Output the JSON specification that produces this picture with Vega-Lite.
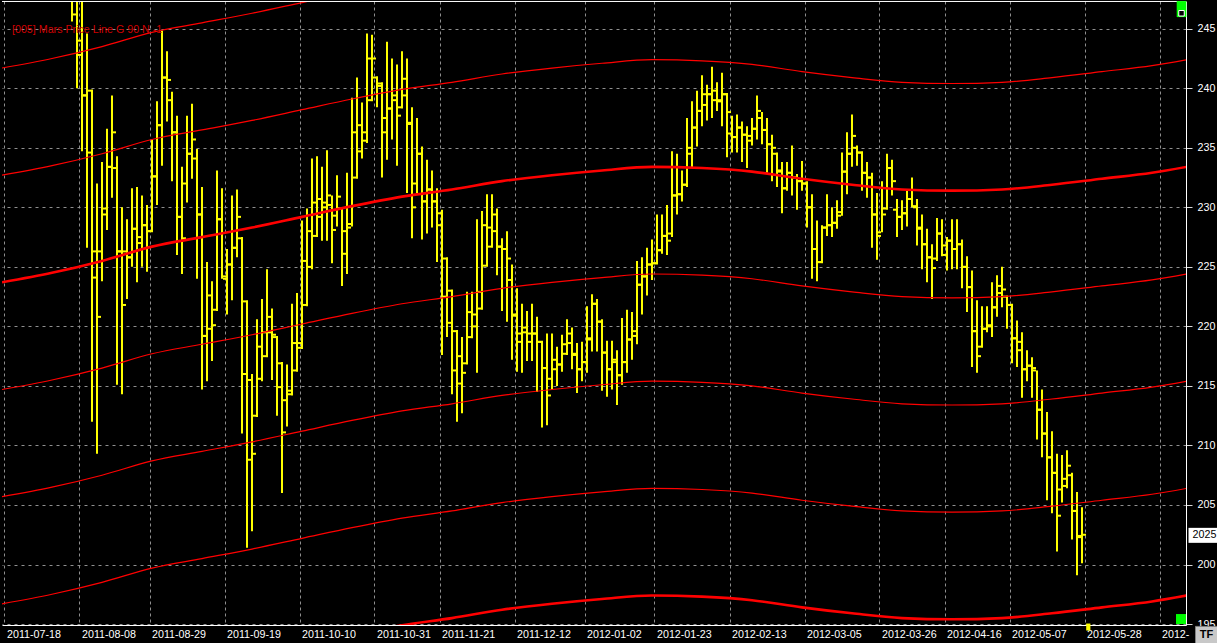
{
  "$schema": "https://vega.github.io/schema/vega-lite/v6.json",
  "width": 1184,
  "height": 624,
  "autosize": {"type": "none"},
  "padding": {"left": 2, "top": 1, "right": 31, "bottom": 18},
  "background": "#000000",
  "title": {"text": "[005] Mars Price Line G 90 N -1", "anchor": "start", "frame": "group", "orient": "top", "offset": 0, "dx": 10, "dy": 43, "baseline": "alphabetic", "color": "#d00000", "font": "Liberation Sans", "fontSize": 10.7, "fontWeight": "normal"},
  "config": {"view": {"stroke": null}},
  "resolve": {"axis": {"x": "independent", "y": "independent"}},
  "datasets": {
    "ohlc": [
      {"i":0,"o":248,"h":249,"l":245.6,"c":246.2},{"i":1,"o":247.5,"h":249,"l":240.0,"c":242.8},{"i":2,"o":244,"h":248,"l":234.7,"c":239.4},{"i":3,"o":239.4,"h":244.6,"l":226.6,"c":234.6},{"i":4,"o":239.8,"h":239.9,"l":212.0,"c":226.3},{"i":5,"o":224.1,"h":232.0,"l":209.3,"c":220.8},{"i":6,"o":226.3,"h":233.8,"l":223.8,"c":229.4},{"i":7,"o":229.9,"h":236.6,"l":228.1,"c":233.4},{"i":8,"o":233.4,"h":239.4,"l":230.8,"c":236.3},{"i":9,"o":233.3,"h":234.3,"l":215.1,"c":226.3},
      {"i":10,"o":226.3,"h":230.0,"l":214.3,"c":221.8},{"i":11,"o":226.3,"h":229.0,"l":222.3,"c":225.8},{"i":12,"o":225.8,"h":231.6,"l":225.0,"c":228.2},{"i":13,"o":228.2,"h":231.7,"l":223.7,"c":227.0},{"i":14,"o":227.5,"h":231.0,"l":225.0,"c":228.5},{"i":15,"o":228.5,"h":230.2,"l":224.6,"c":228.0},{"i":16,"o":228.0,"h":235.7,"l":227.9,"c":232.6},{"i":17,"o":232.6,"h":238.9,"l":230.2,"c":236.9},{"i":18,"o":236.9,"h":244.85,"l":233.5,"c":240.9},{"i":19,"o":240.9,"h":243.1,"l":237.2,"c":240.7},
      {"i":20,"o":239.0,"h":239.7,"l":232.2,"c":236.3},{"i":21,"o":236.3,"h":237.7,"l":226.0,"c":229.2},{"i":22,"o":229.2,"h":233.4,"l":224.4,"c":227.4},{"i":23,"o":232.0,"h":237.7,"l":230.4,"c":234.5},{"i":24,"o":234.5,"h":238.7,"l":232.4,"c":235.7},{"i":25,"o":234.1,"h":234.9,"l":224.0,"c":229.4},{"i":26,"o":229.4,"h":231.7,"l":214.7,"c":219.2},{"i":27,"o":219.2,"h":225.4,"l":215.4,"c":219.8},{"i":28,"o":222.6,"h":223.8,"l":217.1,"c":220.1},{"i":29,"o":221.4,"h":233.1,"l":221.3,"c":229.0},
      {"i":30,"o":229.0,"h":231.6,"l":224.0,"c":224.2},{"i":31,"o":224.0,"h":226.5,"l":221.0,"c":225.2},{"i":32,"o":225.2,"h":231.0,"l":222.2,"c":226.6},{"i":33,"o":226.6,"h":231.5,"l":225.8,"c":229.2},{"i":34,"o":227.4,"h":227.5,"l":211.0,"c":216.0},{"i":35,"o":222.1,"h":222.2,"l":201.4,"c":208.8},{"i":36,"o":215.5,"h":216.0,"l":202.8,"c":209.3},{"i":37,"o":212.5,"h":220.6,"l":212.4,"c":218.3},{"i":38,"o":215.6,"h":222.3,"l":215.4,"c":219.5},{"i":39,"o":217.5,"h":224.8,"l":217.4,"c":220.8},
      {"i":40,"o":219.5,"h":221.5,"l":215.5,"c":219.3},{"i":41,"o":219.1,"h":219.2,"l":212.5,"c":214.9},{"i":42,"o":216.9,"h":217.0,"l":206.0,"c":211.1},{"i":43,"o":213.8,"h":216.8,"l":211.6,"c":214.6},{"i":44,"o":214.3,"h":221.9,"l":214.2,"c":218.6},{"i":45,"o":216.3,"h":222.8,"l":216.2,"c":218.6},{"i":46,"o":218.2,"h":228.9,"l":218.1,"c":225.5},{"i":47,"o":221.8,"h":229.9,"l":221.7,"c":228.0},{"i":48,"o":225.0,"h":234.1,"l":224.8,"c":230.4},{"i":49,"o":227.6,"h":234.3,"l":227.5,"c":230.7},
      {"i":50,"o":229.2,"h":233.4,"l":227.2,"c":230.0},{"i":51,"o":230.4,"h":234.8,"l":227.2,"c":231.0},{"i":52,"o":230.2,"h":231.0,"l":225.3,"c":228.1},{"i":53,"o":229.3,"h":232.7,"l":228.4,"c":230.9},{"i":54,"o":229.9,"h":230.0,"l":223.4,"c":226.1},{"i":55,"o":228.0,"h":232.9,"l":224.4,"c":228.3},{"i":56,"o":228.6,"h":239.2,"l":228.4,"c":236.3},{"i":57,"o":232.5,"h":240.9,"l":232.4,"c":236.9},{"i":58,"o":234.7,"h":238.8,"l":234.1,"c":236.3},{"i":59,"o":235.6,"h":244.6,"l":235.4,"c":242.5},
      {"i":60,"o":239.0,"h":244.5,"l":238.9,"c":242.5},{"i":61,"o":240.9,"h":241.0,"l":238.4,"c":240.4},{"i":62,"o":240.2,"h":240.5,"l":232.5,"c":236.3},{"i":63,"o":237.5,"h":243.9,"l":234.0,"c":238.3},{"i":64,"o":238.3,"h":242.5,"l":235.7,"c":239.0},{"i":65,"o":239.4,"h":242.0,"l":233.5,"c":237.7},{"i":66,"o":238.4,"h":243.1,"l":238.3,"c":240.8},{"i":67,"o":239.4,"h":242.5,"l":231.2,"c":237.1},{"i":68,"o":237.0,"h":238.4,"l":227.4,"c":230.0},{"i":69,"o":232.0,"h":237.5,"l":231.2,"c":234.5},
      {"i":70,"o":234.5,"h":235.1,"l":227.3,"c":230.5},{"i":71,"o":230.5,"h":234.0,"l":227.8,"c":231.5},{"i":72,"o":231.5,"h":233.1,"l":228.3,"c":230.5},{"i":73,"o":230.5,"h":231.6,"l":225.4,"c":229.5},{"i":74,"o":228.5,"h":229.8,"l":217.6,"c":222.5},{"i":75,"o":225.7,"h":225.8,"l":219.1,"c":220.3},{"i":76,"o":223.0,"h":223.1,"l":214.3,"c":216.3},{"i":77,"o":219.6,"h":219.7,"l":212.0,"c":215.2},{"i":78,"o":217.5,"h":219.1,"l":212.7,"c":216.1},{"i":79,"o":216.9,"h":222.9,"l":216.8,"c":221.2},
      {"i":80,"o":219.1,"h":222.9,"l":219.0,"c":221.0},{"i":81,"o":220.0,"h":229.0,"l":216.1,"c":222.9},{"i":82,"o":221.5,"h":229.7,"l":221.4,"c":228.5},{"i":83,"o":225.1,"h":231.1,"l":225.0,"c":228.3},{"i":84,"o":226.7,"h":231.1,"l":226.6,"c":229.4},{"i":85,"o":228.0,"h":229.9,"l":224.3,"c":226.7},{"i":86,"o":226.7,"h":227.4,"l":221.3,"c":226.5},{"i":87,"o":226.5,"h":228.0,"l":220.4,"c":225.7},{"i":88,"o":223.9,"h":225.2,"l":217.2,"c":220.9},{"i":89,"o":221.0,"h":223.2,"l":216.2,"c":219.4},
      {"i":90,"o":218.7,"h":221.9,"l":216.1,"c":219.5},{"i":91,"o":219.9,"h":221.3,"l":217.1,"c":219.4},{"i":92,"o":218.7,"h":221.9,"l":217.1,"c":219.4},{"i":93,"o":219.4,"h":220.8,"l":214.5,"c":218.7},{"i":94,"o":218.7,"h":218.8,"l":211.5,"c":216.5},{"i":95,"o":216.5,"h":219.4,"l":211.7,"c":214.2},{"i":96,"o":215.6,"h":219.4,"l":214.7,"c":217.2},{"i":97,"o":216.4,"h":218.3,"l":215.0,"c":216.8},{"i":98,"o":216.8,"h":219.3,"l":216.2,"c":218.5},{"i":99,"o":217.7,"h":220.6,"l":217.6,"c":219.4},
      {"i":100,"o":218.6,"h":219.9,"l":216.4,"c":217.6},{"i":101,"o":217.7,"h":218.6,"l":214.4,"c":216.4},{"i":102,"o":216.4,"h":218.7,"l":215.4,"c":217.0},{"i":103,"o":217.0,"h":221.7,"l":216.1,"c":218.9},{"i":104,"o":219.0,"h":222.7,"l":217.9,"c":221.9},{"i":105,"o":221.9,"h":222.3,"l":217.9,"c":220.4},{"i":106,"o":220.4,"h":220.6,"l":214.6,"c":217.8},{"i":107,"o":217.8,"h":218.8,"l":214.1,"c":216.4},{"i":108,"o":216.4,"h":218.8,"l":214.7,"c":217.2},{"i":109,"o":217.0,"h":218.0,"l":213.4,"c":215.9},
      {"i":110,"o":215.9,"h":220.7,"l":215.1,"c":217.0},{"i":111,"o":217.0,"h":221.4,"l":216.1,"c":218.9},{"i":112,"o":218.9,"h":221.2,"l":217.2,"c":219.6},{"i":113,"o":219.2,"h":225.5,"l":218.5,"c":223.5},{"i":114,"o":223.5,"h":225.8,"l":221.0,"c":224.2},{"i":115,"o":224.2,"h":226.6,"l":222.6,"c":225.2},{"i":116,"o":225.2,"h":227.3,"l":223.9,"c":225.3},{"i":117,"o":225.3,"h":229.4,"l":225.2,"c":226.4},{"i":118,"o":226.4,"h":229.4,"l":226.1,"c":227.6},{"i":119,"o":227.6,"h":230.2,"l":226.0,"c":227.2},
      {"i":120,"o":227.8,"h":234.7,"l":227.5,"c":231.0},{"i":121,"o":231.0,"h":234.5,"l":229.4,"c":231.1},{"i":122,"o":231.1,"h":233.1,"l":230.5,"c":231.9},{"i":123,"o":231.9,"h":237.5,"l":231.7,"c":235.0},{"i":124,"o":234.5,"h":238.9,"l":233.3,"c":236.7},{"i":125,"o":236.7,"h":239.8,"l":235.1,"c":238.1},{"i":126,"o":238.1,"h":241.1,"l":236.8,"c":239.5},{"i":127,"o":238.6,"h":240.3,"l":237.3,"c":239.5},{"i":128,"o":239.5,"h":241.8,"l":237.5,"c":239.8},{"i":129,"o":239.0,"h":240.5,"l":238.1,"c":238.9},
      {"i":130,"o":239.0,"h":241.3,"l":236.8,"c":239.5},{"i":131,"o":239.5,"h":239.6,"l":234.2,"c":238.0},{"i":132,"o":236.2,"h":237.7,"l":234.6,"c":235.9},{"i":133,"o":235.9,"h":237.8,"l":234.6,"c":236.7},{"i":134,"o":236.7,"h":237.2,"l":233.8,"c":236.1},{"i":135,"o":236.1,"h":236.8,"l":233.3,"c":235.6},{"i":136,"o":236.0,"h":237.5,"l":235.2,"c":236.6},{"i":137,"o":236.6,"h":239.4,"l":235.7,"c":238.1},{"i":138,"o":237.5,"h":238.0,"l":235.3,"c":236.5},{"i":139,"o":236.5,"h":237.5,"l":232.9,"c":235.3},
      {"i":140,"o":235.3,"h":236.1,"l":232.2,"c":235.0},{"i":141,"o":234.5,"h":234.6,"l":231.7,"c":233.1},{"i":142,"o":233.0,"h":233.8,"l":229.5,"c":231.6},{"i":143,"o":231.6,"h":233.8,"l":231.4,"c":232.9},{"i":144,"o":232.9,"h":235.2,"l":231.0,"c":232.5},{"i":145,"o":232.5,"h":232.8,"l":229.8,"c":232.2},{"i":146,"o":232.2,"h":233.9,"l":231.4,"c":232.0},{"i":147,"o":232.0,"h":232.2,"l":228.3,"c":230.0},{"i":148,"o":230.0,"h":231.1,"l":224.0,"c":226.5},{"i":149,"o":226.5,"h":228.9,"l":223.8,"c":225.4},
      {"i":150,"o":225.4,"h":228.5,"l":225.3,"c":228.3},{"i":151,"o":228.3,"h":231.1,"l":227.6,"c":228.5},{"i":152,"o":228.5,"h":230.0,"l":227.5,"c":228.7},{"i":153,"o":228.7,"h":230.6,"l":228.2,"c":229.3},{"i":154,"o":229.6,"h":234.6,"l":229.3,"c":233.0},{"i":155,"o":233.0,"h":236.3,"l":231.1,"c":234.5},{"i":156,"o":234.5,"h":237.8,"l":233.4,"c":236.0},{"i":157,"o":235.0,"h":235.2,"l":233.5,"c":234.6},{"i":158,"o":234.6,"h":234.7,"l":231.4,"c":232.9},{"i":159,"o":232.9,"h":233.8,"l":230.8,"c":232.5},
      {"i":160,"o":232.5,"h":232.9,"l":226.6,"c":229.4},{"i":161,"o":229.4,"h":231.2,"l":225.6,"c":227.6},{"i":162,"o":227.9,"h":232.2,"l":227.9,"c":229.4},{"i":163,"o":229.9,"h":234.5,"l":229.8,"c":233.3},{"i":164,"o":233.3,"h":234.0,"l":231.0,"c":232.2},{"i":165,"o":229.8,"h":230.7,"l":227.5,"c":229.2},{"i":166,"o":229.2,"h":230.6,"l":228.1,"c":229.5},{"i":167,"o":229.5,"h":231.4,"l":228.4,"c":230.7},{"i":168,"o":230.7,"h":232.5,"l":230.0,"c":230.1},{"i":169,"o":230.0,"h":230.7,"l":226.8,"c":228.2},
      {"i":170,"o":228.3,"h":229.4,"l":224.8,"c":226.9},{"i":171,"o":226.9,"h":228.2,"l":223.7,"c":225.8},{"i":172,"o":225.8,"h":226.9,"l":222.3,"c":224.9},{"i":173,"o":225.7,"h":229.1,"l":225.5,"c":227.8},{"i":174,"o":227.8,"h":229.0,"l":225.9,"c":226.8},{"i":175,"o":226.0,"h":227.5,"l":224.7,"c":227.2},{"i":176,"o":227.2,"h":229.0,"l":224.8,"c":226.5},{"i":177,"o":226.5,"h":229.0,"l":224.8,"c":226.9},{"i":178,"o":226.9,"h":227.3,"l":223.2,"c":225.0},{"i":179,"o":225.0,"h":225.9,"l":221.2,"c":223.3},
      {"i":180,"o":223.3,"h":224.7,"l":216.6,"c":219.6},{"i":181,"o":219.6,"h":222.2,"l":216.1,"c":217.5},{"i":182,"o":218.3,"h":221.7,"l":218.2,"c":219.8},{"i":183,"o":219.8,"h":221.7,"l":219.5,"c":220.0},{"i":184,"o":220.1,"h":223.7,"l":219.1,"c":221.6},{"i":185,"o":221.6,"h":224.3,"l":220.8,"c":223.4},{"i":186,"o":222.8,"h":225.0,"l":221.6,"c":223.1},{"i":187,"o":222.5,"h":222.6,"l":219.8,"c":221.8},{"i":188,"o":221.8,"h":221.9,"l":216.9,"c":219.0},{"i":189,"o":219.0,"h":220.5,"l":216.6,"c":218.0},
      {"i":190,"o":218.7,"h":219.5,"l":214.0,"c":216.4},{"i":191,"o":216.4,"h":218.0,"l":215.4,"c":216.7},{"i":192,"o":216.7,"h":217.4,"l":214.0,"c":216.5},{"i":193,"o":216.3,"h":216.3,"l":210.5,"c":213.0},{"i":194,"o":213.0,"h":214.7,"l":209.0,"c":211.0},{"i":195,"o":211.0,"h":212.8,"l":205.4,"c":209.0},{"i":196,"o":209.0,"h":211.2,"l":204.3,"c":207.7},{"i":197,"o":207.7,"h":209.3,"l":201.1,"c":204.1},{"i":198,"o":206.3,"h":209.2,"l":205.2,"c":206.6},{"i":199,"o":207.2,"h":209.6,"l":206.4,"c":208.3},
      {"i":200,"o":207.5,"h":207.7,"l":202.1,"c":204.5},{"i":201,"o":204.5,"h":206.1,"l":199.1,"c":202.3},{"i":202,"o":202.4,"h":204.8,"l":200.1,"c":202.5}
    ],
    "mars": [
      {"k":18,"i":-14,"v":241.7},{"k":18,"i":-4,"v":242.5},{"k":18,"i":6,"v":243.5},{"k":18,"i":16,"v":244.7},{"k":18,"i":26,"v":245.5},{"k":18,"i":36,"v":246.3},{"k":18,"i":46,"v":247.2},{"k":18,"i":56,"v":248.1},{"k":18,"i":66,"v":248.9},
      {"k":9,"i":-14,"v":232.7},{"k":9,"i":-4,"v":233.5},{"k":9,"i":6,"v":234.5},{"k":9,"i":16,"v":235.7},{"k":9,"i":26,"v":236.5},{"k":9,"i":36,"v":237.3},{"k":9,"i":46,"v":238.2},{"k":9,"i":56,"v":239.1},{"k":9,"i":66,"v":239.9},{"k":9,"i":76,"v":240.5},{"k":9,"i":86,"v":241.2},{"k":9,"i":96,"v":241.7},{"k":9,"i":106,"v":242.1},{"k":9,"i":116,"v":242.4},{"k":9,"i":126,"v":242.3},{"k":9,"i":136,"v":242.0},{"k":9,"i":146,"v":241.4},{"k":9,"i":156,"v":240.9},{"k":9,"i":166,"v":240.5},{"k":9,"i":176,"v":240.4},{"k":9,"i":186,"v":240.5},{"k":9,"i":196,"v":240.9},{"k":9,"i":206,"v":241.4},{"k":9,"i":216,"v":241.9},{"k":9,"i":223,"v":242.4},
      {"k":0,"i":-14,"v":223.7},{"k":0,"i":-4,"v":224.5},{"k":0,"i":6,"v":225.5},{"k":0,"i":16,"v":226.7},{"k":0,"i":26,"v":227.5},{"k":0,"i":36,"v":228.3},{"k":0,"i":46,"v":229.2},{"k":0,"i":56,"v":230.1},{"k":0,"i":66,"v":230.9},{"k":0,"i":76,"v":231.5},{"k":0,"i":86,"v":232.2},{"k":0,"i":96,"v":232.7},{"k":0,"i":106,"v":233.1},{"k":0,"i":116,"v":233.4},{"k":0,"i":126,"v":233.3},{"k":0,"i":136,"v":233.0},{"k":0,"i":146,"v":232.4},{"k":0,"i":156,"v":231.9},{"k":0,"i":166,"v":231.5},{"k":0,"i":176,"v":231.4},{"k":0,"i":186,"v":231.5},{"k":0,"i":196,"v":231.9},{"k":0,"i":206,"v":232.4},{"k":0,"i":216,"v":232.9},{"k":0,"i":223,"v":233.4},
      {"k":-9,"i":-14,"v":214.7},{"k":-9,"i":-4,"v":215.5},{"k":-9,"i":6,"v":216.5},{"k":-9,"i":16,"v":217.7},{"k":-9,"i":26,"v":218.5},{"k":-9,"i":36,"v":219.3},{"k":-9,"i":46,"v":220.2},{"k":-9,"i":56,"v":221.1},{"k":-9,"i":66,"v":221.9},{"k":-9,"i":76,"v":222.5},{"k":-9,"i":86,"v":223.2},{"k":-9,"i":96,"v":223.7},{"k":-9,"i":106,"v":224.1},{"k":-9,"i":116,"v":224.4},{"k":-9,"i":126,"v":224.3},{"k":-9,"i":136,"v":224.0},{"k":-9,"i":146,"v":223.4},{"k":-9,"i":156,"v":222.9},{"k":-9,"i":166,"v":222.5},{"k":-9,"i":176,"v":222.4},{"k":-9,"i":186,"v":222.5},{"k":-9,"i":196,"v":222.9},{"k":-9,"i":206,"v":223.4},{"k":-9,"i":216,"v":223.9},{"k":-9,"i":223,"v":224.4},
      {"k":-18,"i":-14,"v":205.7},{"k":-18,"i":-4,"v":206.5},{"k":-18,"i":6,"v":207.5},{"k":-18,"i":16,"v":208.7},{"k":-18,"i":26,"v":209.5},{"k":-18,"i":36,"v":210.3},{"k":-18,"i":46,"v":211.2},{"k":-18,"i":56,"v":212.1},{"k":-18,"i":66,"v":212.9},{"k":-18,"i":76,"v":213.5},{"k":-18,"i":86,"v":214.2},{"k":-18,"i":96,"v":214.7},{"k":-18,"i":106,"v":215.1},{"k":-18,"i":116,"v":215.4},{"k":-18,"i":126,"v":215.3},{"k":-18,"i":136,"v":215.0},{"k":-18,"i":146,"v":214.4},{"k":-18,"i":156,"v":213.9},{"k":-18,"i":166,"v":213.5},{"k":-18,"i":176,"v":213.4},{"k":-18,"i":186,"v":213.5},{"k":-18,"i":196,"v":213.9},{"k":-18,"i":206,"v":214.4},{"k":-18,"i":216,"v":214.9},{"k":-18,"i":223,"v":215.4},
      {"k":-27,"i":-14,"v":196.7},{"k":-27,"i":-4,"v":197.5},{"k":-27,"i":6,"v":198.5},{"k":-27,"i":16,"v":199.7},{"k":-27,"i":26,"v":200.5},{"k":-27,"i":36,"v":201.3},{"k":-27,"i":46,"v":202.2},{"k":-27,"i":56,"v":203.1},{"k":-27,"i":66,"v":203.9},{"k":-27,"i":76,"v":204.5},{"k":-27,"i":86,"v":205.2},{"k":-27,"i":96,"v":205.7},{"k":-27,"i":106,"v":206.1},{"k":-27,"i":116,"v":206.4},{"k":-27,"i":126,"v":206.3},{"k":-27,"i":136,"v":206.0},{"k":-27,"i":146,"v":205.4},{"k":-27,"i":156,"v":204.9},{"k":-27,"i":166,"v":204.5},{"k":-27,"i":176,"v":204.4},{"k":-27,"i":186,"v":204.5},{"k":-27,"i":196,"v":204.9},{"k":-27,"i":206,"v":205.4},{"k":-27,"i":216,"v":205.9},{"k":-27,"i":223,"v":206.4},
      {"k":-36,"i":46,"v":193.2},{"k":-36,"i":56,"v":194.1},{"k":-36,"i":66,"v":194.9},{"k":-36,"i":76,"v":195.5},{"k":-36,"i":86,"v":196.2},{"k":-36,"i":96,"v":196.7},{"k":-36,"i":106,"v":197.1},{"k":-36,"i":116,"v":197.4},{"k":-36,"i":126,"v":197.3},{"k":-36,"i":136,"v":197.0},{"k":-36,"i":146,"v":196.4},{"k":-36,"i":156,"v":195.9},{"k":-36,"i":166,"v":195.5},{"k":-36,"i":176,"v":195.4},{"k":-36,"i":186,"v":195.5},{"k":-36,"i":196,"v":195.9},{"k":-36,"i":206,"v":196.4},{"k":-36,"i":216,"v":196.9},{"k":-36,"i":223,"v":197.4}
    ]
  },
  "layer": [
    {
      "data": {"name": "ohlc"},
      "mark": {"type": "rule", "color": "#ffff00", "strokeWidth": 2, "clip": true},
      "encoding": {
        "x": {"field": "i", "type": "quantitative",
          "scale": {"domain": [-14.0, 222.8], "nice": false, "zero": false},
          "axis": {"orient": "bottom", "title": null,
            "values": [-13.5, 1.5, 15.5, 30.5, 45.5, 60.5, 73.5, 88.5, 102.5, 116.5, 131.5, 146.5, 161.5, 174.5, 187.5, 202.5, 217.5],
            "labelExpr": "['2011-07-18','2011-08-08','2011-08-29','2011-09-19','2011-10-10','2011-10-31','2011-11-21','2011-12-12','2012-01-02','2012-01-23','2012-02-13','2012-03-05','2012-03-26','2012-04-16','2012-05-07','2012-05-28','2012-'][indexof([-13.5, 1.5, 15.5, 30.5, 45.5, 60.5, 73.5, 88.5, 102.5, 116.5, 131.5, 146.5, 161.5, 174.5, 187.5, 202.5, 217.5], datum.value)]",
            "grid": true, "gridColor": "#8f8f8f", "gridDash": [3, 3], "gridWidth": 1,
            "domain": true, "domainColor": "#ffffff", "domainWidth": 1,
            "ticks": false, "tickSize": 0,
            "labelColor": "#ffffff", "labelFont": "Liberation Sans", "labelFontSize": 10.7,
            "labelAlign": "left", "labelBaseline": "top", "labelFlush": false, "labelOverlap": false, "labelBound": false,
            "labelPadding": 4, "labelOffset": 2}},
        "y": {"field": "l", "type": "quantitative",
          "scale": {"domain": [194.92, 247.33], "nice": false, "zero": false},
          "axis": {"orient": "right", "title": null,
            "values": [195, 200, 205, 210, 215, 220, 225, 230, 235, 240, 245],
            "grid": true, "gridColor": "#8f8f8f", "gridDash": [3, 4], "gridWidth": 1,
            "domain": true, "domainColor": "#ffffff", "domainWidth": 1,
            "ticks": true, "tickColor": "#d8d8d8", "tickSize": 6, "tickWidth": 1,
            "labelColor": "#ffffff", "labelFont": "Liberation Sans", "labelFontSize": 10.7,
            "labelAlign": "left", "labelBaseline": "middle", "labelPadding": 5, "labelFlush": false, "labelOverlap": false}},
        "y2": {"field": "h"}
      }
    },
    {
      "data": {"name": "ohlc"},
      "mark": {"type": "tick", "orient": "horizontal", "color": "#ffff00", "size": 3, "thickness": 2, "xOffset": -2.5, "opacity": 1, "clip": true},
      "encoding": {
        "x": {"field": "i", "type": "quantitative", "axis": null},
        "y": {"field": "o", "type": "quantitative", "axis": null}
      }
    },
    {
      "data": {"name": "ohlc"},
      "mark": {"type": "tick", "orient": "horizontal", "color": "#ffff00", "size": 3, "thickness": 2, "xOffset": 2.5, "opacity": 1, "clip": true},
      "encoding": {
        "x": {"field": "i", "type": "quantitative", "axis": null},
        "y": {"field": "c", "type": "quantitative", "axis": null}
      }
    },
    {
      "data": {"name": "mars"},
      "transform": [{"filter": "datum.k != 0 && datum.k != -36"}],
      "mark": {"type": "line", "color": "#ff0000", "strokeWidth": 1.2, "interpolate": "monotone", "clip": true},
      "encoding": {
        "x": {"field": "i", "type": "quantitative", "axis": null},
        "y": {"field": "v", "type": "quantitative", "axis": null},
        "detail": {"field": "k", "type": "nominal"}
      }
    },
    {
      "data": {"name": "mars"},
      "transform": [{"filter": "datum.k == 0 || datum.k == -36"}],
      "mark": {"type": "line", "color": "#ff0000", "strokeWidth": 2.6, "interpolate": "monotone", "clip": true},
      "encoding": {
        "x": {"field": "i", "type": "quantitative", "axis": null},
        "y": {"field": "v", "type": "quantitative", "axis": null},
        "detail": {"field": "k", "type": "nominal"}
      }
    },
    {
      "data": {"values": [{"edge": "top"}]},
      "mark": {"type": "rule", "color": "#ffffff", "strokeWidth": 1},
      "encoding": {
        "y": {"datum": 247.29, "type": "quantitative", "axis": null}
      }
    },
    {
      "data": {"values": [{"v": 202.45, "label": "2025"}]},
      "mark": {"type": "point", "shape": "M-1,-0.5H1V0.5H-1Z", "size": 900, "filled": true, "color": "#ffffff", "opacity": 1},
      "encoding": {
        "x": {"datum": 226.3, "type": "quantitative", "axis": null},
        "y": {"field": "v", "type": "quantitative", "axis": null}
      }
    },
    {
      "data": {"values": [{"v": 202.45, "label": "2025"}]},
      "mark": {"type": "text", "color": "#000000", "font": "Liberation Sans", "fontSize": 10.7, "align": "center", "baseline": "middle", "dx": 1},
      "encoding": {
        "x": {"datum": 226.3, "type": "quantitative", "axis": null},
        "y": {"field": "v", "type": "quantitative", "axis": null},
        "text": {"field": "label"}
      }
    },
    {
      "data": {"values": [{"label": "TF"}]},
      "mark": {"type": "point", "shape": "M-1,-0.78H1V0.78H-1Z", "size": 484, "filled": true, "fill": "#c8c8c8", "stroke": "#808080", "strokeWidth": 1, "opacity": 1},
      "encoding": {
        "x": {"datum": 226.9, "type": "quantitative", "axis": null},
        "y": {"datum": 194.08, "type": "quantitative", "axis": null}
      }
    },
    {
      "data": {"values": [{"label": "TF"}]},
      "mark": {"type": "text", "color": "#000000", "font": "Liberation Sans", "fontSize": 11, "fontWeight": "bold", "align": "center", "baseline": "middle"},
      "encoding": {
        "x": {"datum": 226.9, "type": "quantitative", "axis": null},
        "y": {"datum": 194.08, "type": "quantitative", "axis": null},
        "text": {"field": "label"}
      }
    },
    {
      "data": {"values": [{"label": "top"}]},
      "mark": {"type": "point", "shape": "M-0.6,-1H0.6V1H-0.6Z", "size": 256, "filled": true, "color": "#00ff00", "opacity": 1},
      "encoding": {
        "x": {"datum": 221.9, "type": "quantitative", "axis": null},
        "y": {"datum": 246.65, "type": "quantitative", "axis": null}
      }
    },
    {
      "data": {"values": [{"label": "top icon"}]},
      "mark": {"type": "point", "shape": "square", "size": 30, "filled": true, "fill": "#000000", "stroke": "#ffffff", "strokeWidth": 1, "opacity": 1},
      "encoding": {
        "x": {"datum": 221.9, "type": "quantitative", "axis": null},
        "y": {"datum": 246.3, "type": "quantitative", "axis": null}
      }
    },
    {
      "data": {"values": [{"label": "bottom"}]},
      "mark": {"type": "point", "shape": "square", "size": 100, "filled": true, "color": "#00ff00", "opacity": 1},
      "encoding": {
        "x": {"datum": 221.8, "type": "quantitative", "axis": null},
        "y": {"datum": 195.42, "type": "quantitative", "axis": null}
      }
    },
    {
      "data": {"values": [{"label": "now"}]},
      "mark": {"type": "point", "shape": "M-0.6,-1H0.6V1H-0.6Z", "size": 49, "filled": true, "color": "#ffff00", "opacity": 1},
      "encoding": {
        "x": {"datum": 203.26, "type": "quantitative", "axis": null},
        "y": {"datum": 194.75, "type": "quantitative", "axis": null}
      }
    }
  ]
}
